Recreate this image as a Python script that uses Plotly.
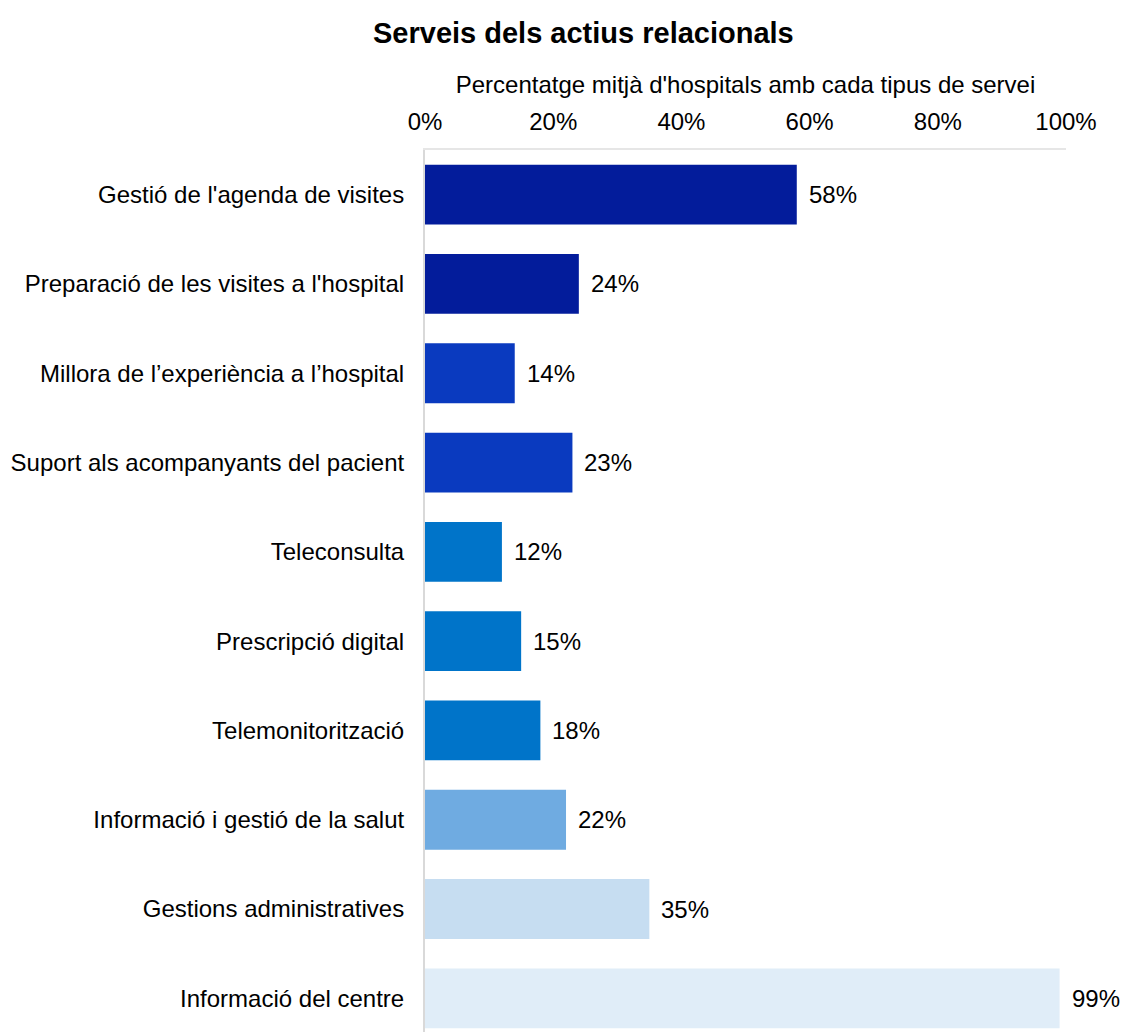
import plotly.graph_objects as go

# Services offered, top to bottom
services = [
    "Gestió de l'agenda de visites",
    "Preparació de les visites a l'hospital",
    "Millora de l’experiència a l’hospital",
    "Suport als acompanyants del pacient",
    "Teleconsulta",
    "Prescripció digital",
    "Telemonitorització",
    "Informació i gestió de la salut",
    "Gestions administratives",
    "Informació del centre",
]
share_pct = [58, 24, 14, 23, 12, 15, 18, 22, 35, 99]
bar_colors = [
    "#031C9B", "#031C9B",
    "#0A3ABF", "#0A3ABF",
    "#0074C9", "#0074C9", "#0074C9",
    "#6FABE1",
    "#C6DDF1",
    "#E0EDF8",
]
x_ticks = [0, 20, 40, 60, 80, 100]

FONT = "Liberation Sans, Arial, sans-serif"

fig = go.Figure(
    go.Bar(
        x=share_pct,
        y=services,
        orientation="h",
        marker=dict(color=bar_colors, line=dict(width=0)),
        hoverinfo="skip",
    )
)

# value labels to the right of each bar
for name, v in zip(services, share_pct):
    fig.add_annotation(
        x=v, y=name, text=f"{v}%", showarrow=False,
        xanchor="left", yanchor="middle", xshift=11, borderpad=0,
        font=dict(family=FONT, size=24, color="#000000"),
    )

fig.add_annotation(
    text="<b>Serveis dels actius relacionals</b>",
    xref="paper", yref="paper", x=(583 - 425) / 641, y=1,
    xanchor="center", yanchor="middle", yshift=117,
    showarrow=False, font=dict(family=FONT, size=29, color="#000000"),
)

fig.update_layout(
    width=1121,
    height=1032,
    margin=dict(l=425, r=55, t=150, b=0),
    paper_bgcolor="white",
    plot_bgcolor="white",
    showlegend=False,
    bargap=0.33,
    font=dict(family=FONT, size=24, color="#000000"),
    xaxis=dict(
        side="top",
        range=[0, 100],
        tickvals=x_ticks,
        ticktext=[f"{t}%" for t in x_ticks],
        showgrid=False,
        zeroline=False,
        showline=True,
        linecolor="#E6E6E6",
        linewidth=2,
        ticks="",
        ticklabelstandoff=8,
        title=dict(
            text="Percentatge mitjà d'hospitals amb cada tipus de servei",
            standoff=8,
            font=dict(family=FONT, size=24, color="#000000"),
        ),
        fixedrange=True,
    ),
    yaxis=dict(
        type="category",
        range=[9.377, -0.5],
        showgrid=False,
        zeroline=False,
        showline=True,
        linecolor="#D9D9D9",
        linewidth=2,
        ticks="",
        ticklabelstandoff=14,
        fixedrange=True,
    ),
)

fig.write_html("out.html")
